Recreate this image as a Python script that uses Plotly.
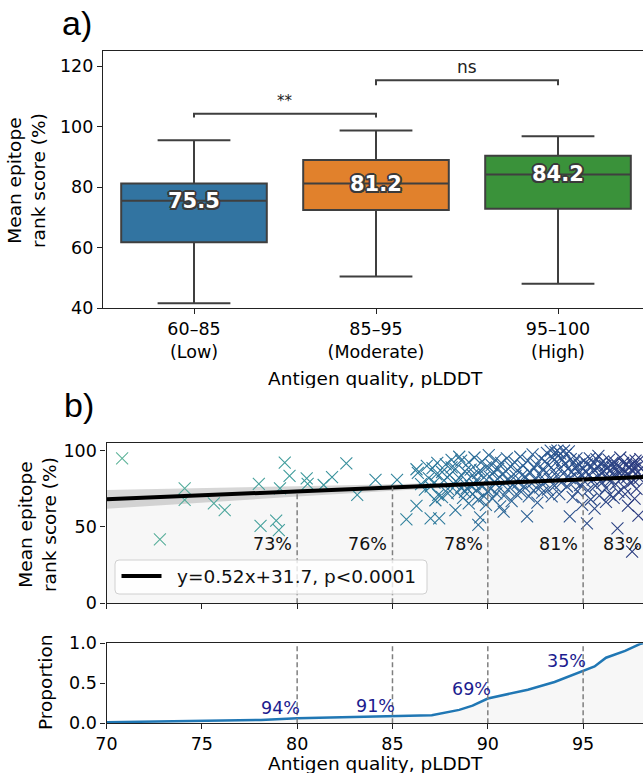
import plotly.graph_objects as go

W, H = 643, 782
def fx(p):
    return p / W
def fy(p):
    return (H - p) / H

FONT = "DejaVu Sans"
FS = 17.5

# ---------------- panel a) data ----------------
groups = ["60–85<br>(Low)", "85–95<br>(Moderate)", "95–100<br>(High)"]
box_colors = ["#3274a1", "#e1812c", "#3a923a"]
whisker_low = [41.7, 50.5, 48.1]
q1 = [61.8, 72.5, 72.9]
median = [75.5, 81.2, 84.2]
q3 = [81.2, 89.0, 90.4]
whisker_high = [95.5, 98.7, 96.8]
sig_left = [0, 1]
sig_right = [1, 2]
sig_height = [104.3, 115.3]
sig_tip = [103.0, 113.7]
sig_text = ["**", "ns"]
sig_text_y = [108.6, 119.6]
a_yticks = [40, 60, 80, 100, 120]

# ---------------- panel b) data ----------------
plddt_sparse = [70.82, 72.8, 74.1, 74.1, 75.63, 76.2, 77.99, 78.08, 78.9, 79.04,
                79.1, 79.35, 79.6, 80.5, 80.55, 81.39, 81.83, 82.58, 83.15, 84.11]
rank_sparse = [95.0, 41.9, 75.3, 67.7, 65.5, 61.1, 78.2, 50.7, 54.1, 48.0,
               75.3, 92.2, 83.4, 81.9, 78.2, 77.5, 82.6, 91.7, 71.0, 80.8]

plddt_85_90 = [85.24, 85.73, 86.26, 86.26, 86.33, 86.5, 86.7, 86.9, 87.0, 87.1,
               87.2, 87.3, 87.45, 87.4, 86.8, 87.0, 87.35, 87.25,
               87.6, 87.7, 87.8, 87.9, 88.0, 88.1, 88.2, 88.3, 88.3, 88.4,
               88.5, 88.5, 88.6, 88.7, 88.8, 88.8, 88.9, 89.0, 89.0, 89.1,
               89.2, 89.2, 89.3, 89.4, 89.4, 89.5, 89.5, 89.6, 89.6, 89.7,
               89.7, 89.8, 89.8, 89.9, 89.9, 90.0, 87.6, 87.9, 88.1, 88.4,
               88.6, 88.9, 89.1, 89.3, 89.5]
rank_85_90 = [80.8, 55.0, 87.8, 63.8, 85.4, 78.0, 74.5, 82.0, 55.7, 88.5,
              79.0, 84.5, 55.7, 71.0, 90.0, 76.5, 92.0, 67.5,
              86.0, 80.5, 91.0, 75.0, 84.0, 94.0, 78.5, 61.1, 88.0, 72.5,
              82.0, 96.0, 76.0, 69.0, 86.5, 73.0, 80.0, 92.5, 65.5, 77.0,
              84.0, 71.5, 95.5, 74.0, 80.5, 51.3, 68.0, 56.3, 87.0, 93.0,
              76.5, 70.0, 82.5, 64.5, 89.0, 73.5, 69.5, 72.0, 89.0, 79.0,
              93.5, 75.5, 87.5, 78.0, 85.5]

plddt_90_95 = [90.05, 90.1, 90.15, 90.2, 90.25, 90.3, 90.35, 90.4, 90.45, 90.5,
               90.55, 90.6, 90.65, 90.7, 90.75, 90.83, 90.85, 90.9, 90.95,
               91.0, 91.05, 91.1, 91.2, 91.25, 91.3, 91.4, 91.45, 91.5,
               91.55, 91.6, 91.7, 91.75, 91.8, 91.85, 91.9, 92.0, 92.06,
               92.1, 92.15, 92.2, 92.3, 92.35, 92.4, 92.45, 92.5,
               92.55, 92.6, 92.7, 92.75, 92.8, 92.85, 92.9, 92.95, 93.0,
               93.05, 93.1, 93.15, 93.2, 93.25, 93.3, 93.35, 93.4, 93.45, 93.5,
               93.55, 93.6, 93.6, 93.65, 93.7, 93.75, 93.8, 93.8, 93.85, 93.9, 93.95, 94.0,
               94.05, 94.1, 94.15, 94.2, 94.25, 94.3, 94.3, 94.35, 94.4, 94.45, 94.5,
               94.55, 94.6, 94.65, 94.7, 94.75, 94.8, 94.85, 94.9, 94.95]
rank_90_95 = [97.0, 83.0, 75.0, 90.5, 68.5, 86.0, 79.0, 94.0, 72.0, 81.5,
              88.0, 76.0, 63.5, 92.0, 84.5, 60.0, 70.5, 79.5, 86.5,
              95.0, 74.5, 81.0, 89.5, 67.0, 77.5, 92.5, 83.5, 71.5,
              87.0, 79.0, 96.0, 73.0, 84.0, 90.0, 76.5, 82.5, 57.0,
              93.5, 70.0, 86.0, 78.5, 97.5, 74.0, 88.5, 81.0,
              91.0, 66.0, 84.5, 76.0, 95.0, 72.5, 88.0, 79.5, 93.0,
              85.5, 98.5, 74.5, 90.5, 81.5, 100.0, 70.0, 95.5, 87.0, 77.0,
              99.0, 92.5, 83.5, 100.0, 96.5, 71.5, 88.5, 98.0, 79.0, 94.0, 85.0, 100.0,
              91.5, 97.5, 76.5, 88.0, 99.5, 57.0, 82.0, 94.5, 86.0, 69.5, 92.0,
              80.0, 89.5, 95.0, 73.5, 86.5, 91.0, 77.5, 84.0, 64.5]

plddt_95_99 = [95.0, 95.05, 95.1, 95.15, 95.2, 95.2, 95.25, 95.3, 95.35, 95.4, 95.45, 95.5,
               95.55, 95.6, 95.65, 95.7, 95.75, 95.8, 95.85, 95.9, 95.95, 96.0, 95.6, 95.8,
               96.05, 96.1, 96.15, 96.2, 96.25, 96.3, 96.35, 96.4, 96.45, 96.5, 96.2, 96.4,
               96.55, 96.6, 96.65, 96.7, 96.75, 96.8, 96.8, 96.85, 96.9, 96.95, 97.0, 96.6,
               97.05, 97.1, 97.15, 97.2, 97.25, 97.3, 97.35, 97.4, 97.45, 97.5, 97.2, 97.4,
               97.55, 97.57, 97.6, 97.65, 97.7, 97.75, 97.8, 97.85, 97.9, 97.95, 98.0, 98.05, 97.7, 97.9]
rank_95_99 = [88.0, 93.5, 79.5, 86.0, 52.4, 91.0, 74.0, 84.5, 95.0, 68.0, 89.5, 81.0,
              92.0, 87.0, 77.0, 94.5, 83.0, 89.0, 70.5, 91.5, 85.5, 79.0, 62.0, 96.5,
              93.0, 86.5, 90.0, 75.5, 88.5, 82.0, 94.0, 71.0, 87.0, 91.5, 66.5, 80.0,
              89.0, 84.0, 92.5, 78.0, 87.5, 49.1, 90.0, 73.0, 85.0, 95.5, 81.5, 69.0,
              88.0, 92.0, 76.0, 86.0, 90.5, 82.5, 64.0, 89.5, 94.0, 79.0, 71.5, 84.5,
              87.5, 33.8, 91.0, 80.5, 88.5, 93.5, 75.0, 86.0, 90.0, 82.0, 94.5, 88.0, 68.5, 57.5]

fit_slope = 0.52
fit_intercept = 31.7
fit_label = "y=0.52x+31.7, p<0.0001"
ci_x = [70, 75, 80, 85, 90, 95, 98.14]
ci_half = [6.1, 4.6, 3.4, 2.1, 1.3, 1.2, 1.6]

thresholds = [80, 85, 90, 95]
score_labels = ["73%", "76%", "78%", "81%", "83%"]
score_label_x = [80, 85, 90, 95, 98.35]
score_label_y = 38.7

ecdf_x = [70.0, 74.0, 78.1, 80.0, 85.0, 87.06, 88.5, 89.2, 90.0, 90.95, 92.1, 93.5,
          95.0, 95.6, 96.2, 97.2, 97.97, 98.14]
ecdf_y = [0.0125, 0.025, 0.042, 0.063, 0.084, 0.10, 0.168, 0.22, 0.31, 0.36, 0.42, 0.516,
          0.65, 0.71, 0.82, 0.906, 0.99, 1.0]
above_labels = ["94%", "91%", "69%", "35%"]
above_label_y = [0.19, 0.22, 0.43, 0.78]

X_MIN, X_MAX = 70, 98.14
PX_PER_UNIT = 19.07

fig = go.Figure()

# ---- panel a: boxes ----
for i in range(len(groups)):
    fig.add_trace(go.Box(
        x=[i], q1=[q1[i]], median=[median[i]], q3=[q3[i]],
        lowerfence=[whisker_low[i]], upperfence=[whisker_high[i]],
        width=0.8, whiskerwidth=0.5, fillcolor=box_colors[i],
        line=dict(color="#3f3f3f", width=2), boxpoints=False,
        showlegend=False, hoverinfo="skip", xaxis="x", yaxis="y"))

shapes = []
annotations = []
for l, r, h, t in zip(sig_left, sig_right, sig_height, sig_tip):
    shapes.append(dict(type="path", xref="x", yref="y",
                       path=f"M {l},{t} L {l},{h} L {r},{h} L {r},{t}",
                       line=dict(color="#3f3f3f", width=2)))
for l, r, s, ty in zip(sig_left, sig_right, sig_text, sig_text_y):
    annotations.append(dict(x=(l + r) / 2, y=ty, xref="x", yref="y", text=s,
                            showarrow=False, xanchor="center", yanchor="middle",
                            font=dict(family=FONT, size=15 if s == "**" else 17, color="#222")))

outline = ", ".join(f"{dx}px {dy}px 0 #3a3a3a" for dx, dy in
                    [(-1.5, -1.5), (1.5, -1.5), (-1.5, 1.5), (1.5, 1.5), (0, 2), (0, -2), (2, 0), (-2, 0)])
for i, m in enumerate(median):
    annotations.append(dict(x=i, y=m, xref="x", yref="y", text=f"{m:.1f}", showarrow=False,
                            xanchor="center", yanchor="middle",
                            font=dict(family=FONT, size=21, color="white", weight="bold", shadow=outline)))

# ---- panel b: scatter ----
all_x = plddt_sparse + plddt_85_90 + plddt_90_95 + plddt_95_99
all_y = rank_sparse + rank_85_90 + rank_90_95 + rank_95_99

fit_x = [X_MIN, X_MAX]
fit_y = [fit_slope * v + fit_intercept for v in fit_x]
fig.add_trace(go.Scatter(x=fit_x, y=fit_y, mode="lines", fill="tozeroy",
                         fillcolor="#f7f7f7", line=dict(width=0), showlegend=False,
                         hoverinfo="skip", xaxis="x2", yaxis="y2"))
ci_fit = [fit_slope * v + fit_intercept for v in ci_x]
ci_hi = [f + h for f, h in zip(ci_fit, ci_half)]
ci_lo = [f - h for f, h in zip(ci_fit, ci_half)]
fig.add_trace(go.Scatter(x=ci_x + ci_x[::-1], y=ci_hi + ci_lo[::-1], mode="lines",
                         fill="toself", fillcolor="rgba(150,150,150,0.38)", line=dict(width=0),
                         showlegend=False, hoverinfo="skip", xaxis="x2", yaxis="y2"))
crest = [[0, "#63b79b"], [0.35, "#3f9c9c"], [0.6, "#2e7d9d"], [0.8, "#2c5d94"], [1, "#2c3a7f"]]
fig.add_trace(go.Scatter(
    x=all_x, y=all_y, mode="markers", showlegend=False, xaxis="x2", yaxis="y2",
    marker=dict(symbol="x-thin", size=12,
                line=dict(width=1.1, color=all_x, colorscale=crest, cmin=X_MIN, cmax=X_MAX))))
fig.add_trace(go.Scatter(x=fit_x, y=fit_y, mode="lines", line=dict(color="black", width=4),
                         showlegend=False, xaxis="x2", yaxis="y2"))

for t in thresholds:
    shapes.append(dict(type="line", xref="x2", yref="y2", x0=t, x1=t, y0=0,
                       y1=fit_slope * t + fit_intercept,
                       line=dict(color="#7f7f7f", width=1.5, dash="5px,3px")))
for lab, lx in zip(score_labels, score_label_x):
    # labels whose anchor lies beyond the visible range are pinned to the edge
    ax = min(lx, X_MAX)
    shift = -3 + (lx - ax) * PX_PER_UNIT
    annotations.append(dict(x=ax, y=score_label_y, xref="x2", yref="y2", text=lab, showarrow=False,
                            xanchor="right", yanchor="middle", xshift=shift,
                            font=dict(family=FONT, size=FS, color="#111")))

# legend-like box
lx0, lx1, ly0, ly1, rr = 115, 427, 560, 594, 4
shapes.append(dict(type="path", xref="paper", yref="paper",
                   path=(f"M {fx(lx0 + rr)},{fy(ly0)} L {fx(lx1 - rr)},{fy(ly0)} "
                         f"Q {fx(lx1)},{fy(ly0)} {fx(lx1)},{fy(ly0 + rr)} L {fx(lx1)},{fy(ly1 - rr)} "
                         f"Q {fx(lx1)},{fy(ly1)} {fx(lx1 - rr)},{fy(ly1)} L {fx(lx0 + rr)},{fy(ly1)} "
                         f"Q {fx(lx0)},{fy(ly1)} {fx(lx0)},{fy(ly1 - rr)} L {fx(lx0)},{fy(ly0 + rr)} "
                         f"Q {fx(lx0)},{fy(ly0)} {fx(lx0 + rr)},{fy(ly0)} Z"),
                   fillcolor="rgba(255,255,255,0.8)", line=dict(color="#d0d0d0", width=1)))
shapes.append(dict(type="line", xref="paper", yref="paper", x0=fx(121.5), x1=fx(161.5),
                   y0=fy(576), y1=fy(576), line=dict(color="black", width=4)))
annotations.append(dict(x=fx(175), y=fy(576), xref="paper", yref="paper", text=fit_label,
                        showarrow=False, xanchor="left", yanchor="middle",
                        font=dict(family=FONT, size=18.5, color="#111")))

# ---- panel b: ECDF ----
fig.add_trace(go.Scatter(x=ecdf_x, y=ecdf_y, mode="lines", fill="tozeroy", fillcolor="#f7f7f7",
                         line=dict(color="#2077b4", width=2.5), showlegend=False,
                         xaxis="x3", yaxis="y3"))
for t in thresholds:
    shapes.append(dict(type="line", xref="x3", yref="y3", x0=t, x1=t, y0=0, y1=1,
                       line=dict(color="#7f7f7f", width=1.5, dash="5px,3px")))
for lab, t, ly in zip(above_labels, thresholds, above_label_y):
    annotations.append(dict(x=t, y=ly, xref="x3", yref="y3", text=lab, showarrow=False,
                            xanchor="right", yanchor="middle", xshift=5,
                            font=dict(family=FONT, size=FS, color="#1c1c8f")))

# ---- titles / panel labels ----
def paper_text(px, py, text, size=18.5, family=FONT, angle=0, height=None):
    d = dict(x=fx(px), y=fy(py), xref="paper", yref="paper", text=text, showarrow=False,
             xanchor="center", yanchor="middle", textangle=angle,
             font=dict(family=family, size=size, color="black"))
    if height is not None:
        d["height"] = height
    return d

annotations += [
    paper_text(77, 23, "a)", size=34, family="Liberation Sans"),
    paper_text(79, 405, "b)", size=34, family="Liberation Sans"),
    paper_text(375, 379, "Antigen quality, pLDDT", height=19),
    paper_text(375, 763, "Antigen quality, pLDDT", height=19),
    paper_text(26, 181, "Mean epitope<br>rank score (%)", angle=-90),
    paper_text(37, 525, "Mean epitope<br>rank score (%)", angle=-90),
    paper_text(45, 683, "Proportion", angle=-90),
]

axis_common = dict(showgrid=False, zeroline=False, showline=True, linecolor="#222", linewidth=1.3,
                   ticks="outside", ticklen=5, tickwidth=1.3, tickcolor="#222", automargin=False,
                   tickfont=dict(family=FONT, size=FS, color="black"))

fig.update_layout(
    template="none",
    width=W, height=H, margin=dict(l=0, r=0, t=0, b=0, pad=0), autosize=False,
    paper_bgcolor="white", plot_bgcolor="white", showlegend=False,
    font=dict(family=FONT, size=FS, color="black"),
    xaxis=dict(**axis_common, domain=[fx(103), 1], range=[-0.5, 2.467], anchor="y",
               tickvals=[0, 1, 2], ticktext=groups, mirror=True),
    yaxis=dict(**axis_common, domain=[fy(308.3), fy(51)], range=[40, 125], anchor="x",
               tickvals=a_yticks),
    xaxis2=dict(**axis_common, domain=[fx(106.5), 1], range=[X_MIN, X_MAX], anchor="y2",
                tickvals=[70, 75, 80, 85, 90, 95], showticklabels=False, mirror=True),
    yaxis2=dict(**axis_common, domain=[fy(603.3), fy(442.7)], range=[0, 105.2], anchor="x2",
                tickvals=[0, 50, 100]),
    xaxis3=dict(**axis_common, domain=[fx(106.5), 1], range=[X_MIN, X_MAX], anchor="y3",
                tickvals=[70, 75, 80, 85, 90, 95], mirror=True),
    yaxis3=dict(**axis_common, domain=[fy(723.3), fy(643.3)], range=[0, 1], anchor="x3",
                tickvals=[0, 0.5, 1], ticktext=["0.0", "0.5", "1.0"]),
    shapes=shapes, annotations=annotations,
)

fig.write_html("out.html")
